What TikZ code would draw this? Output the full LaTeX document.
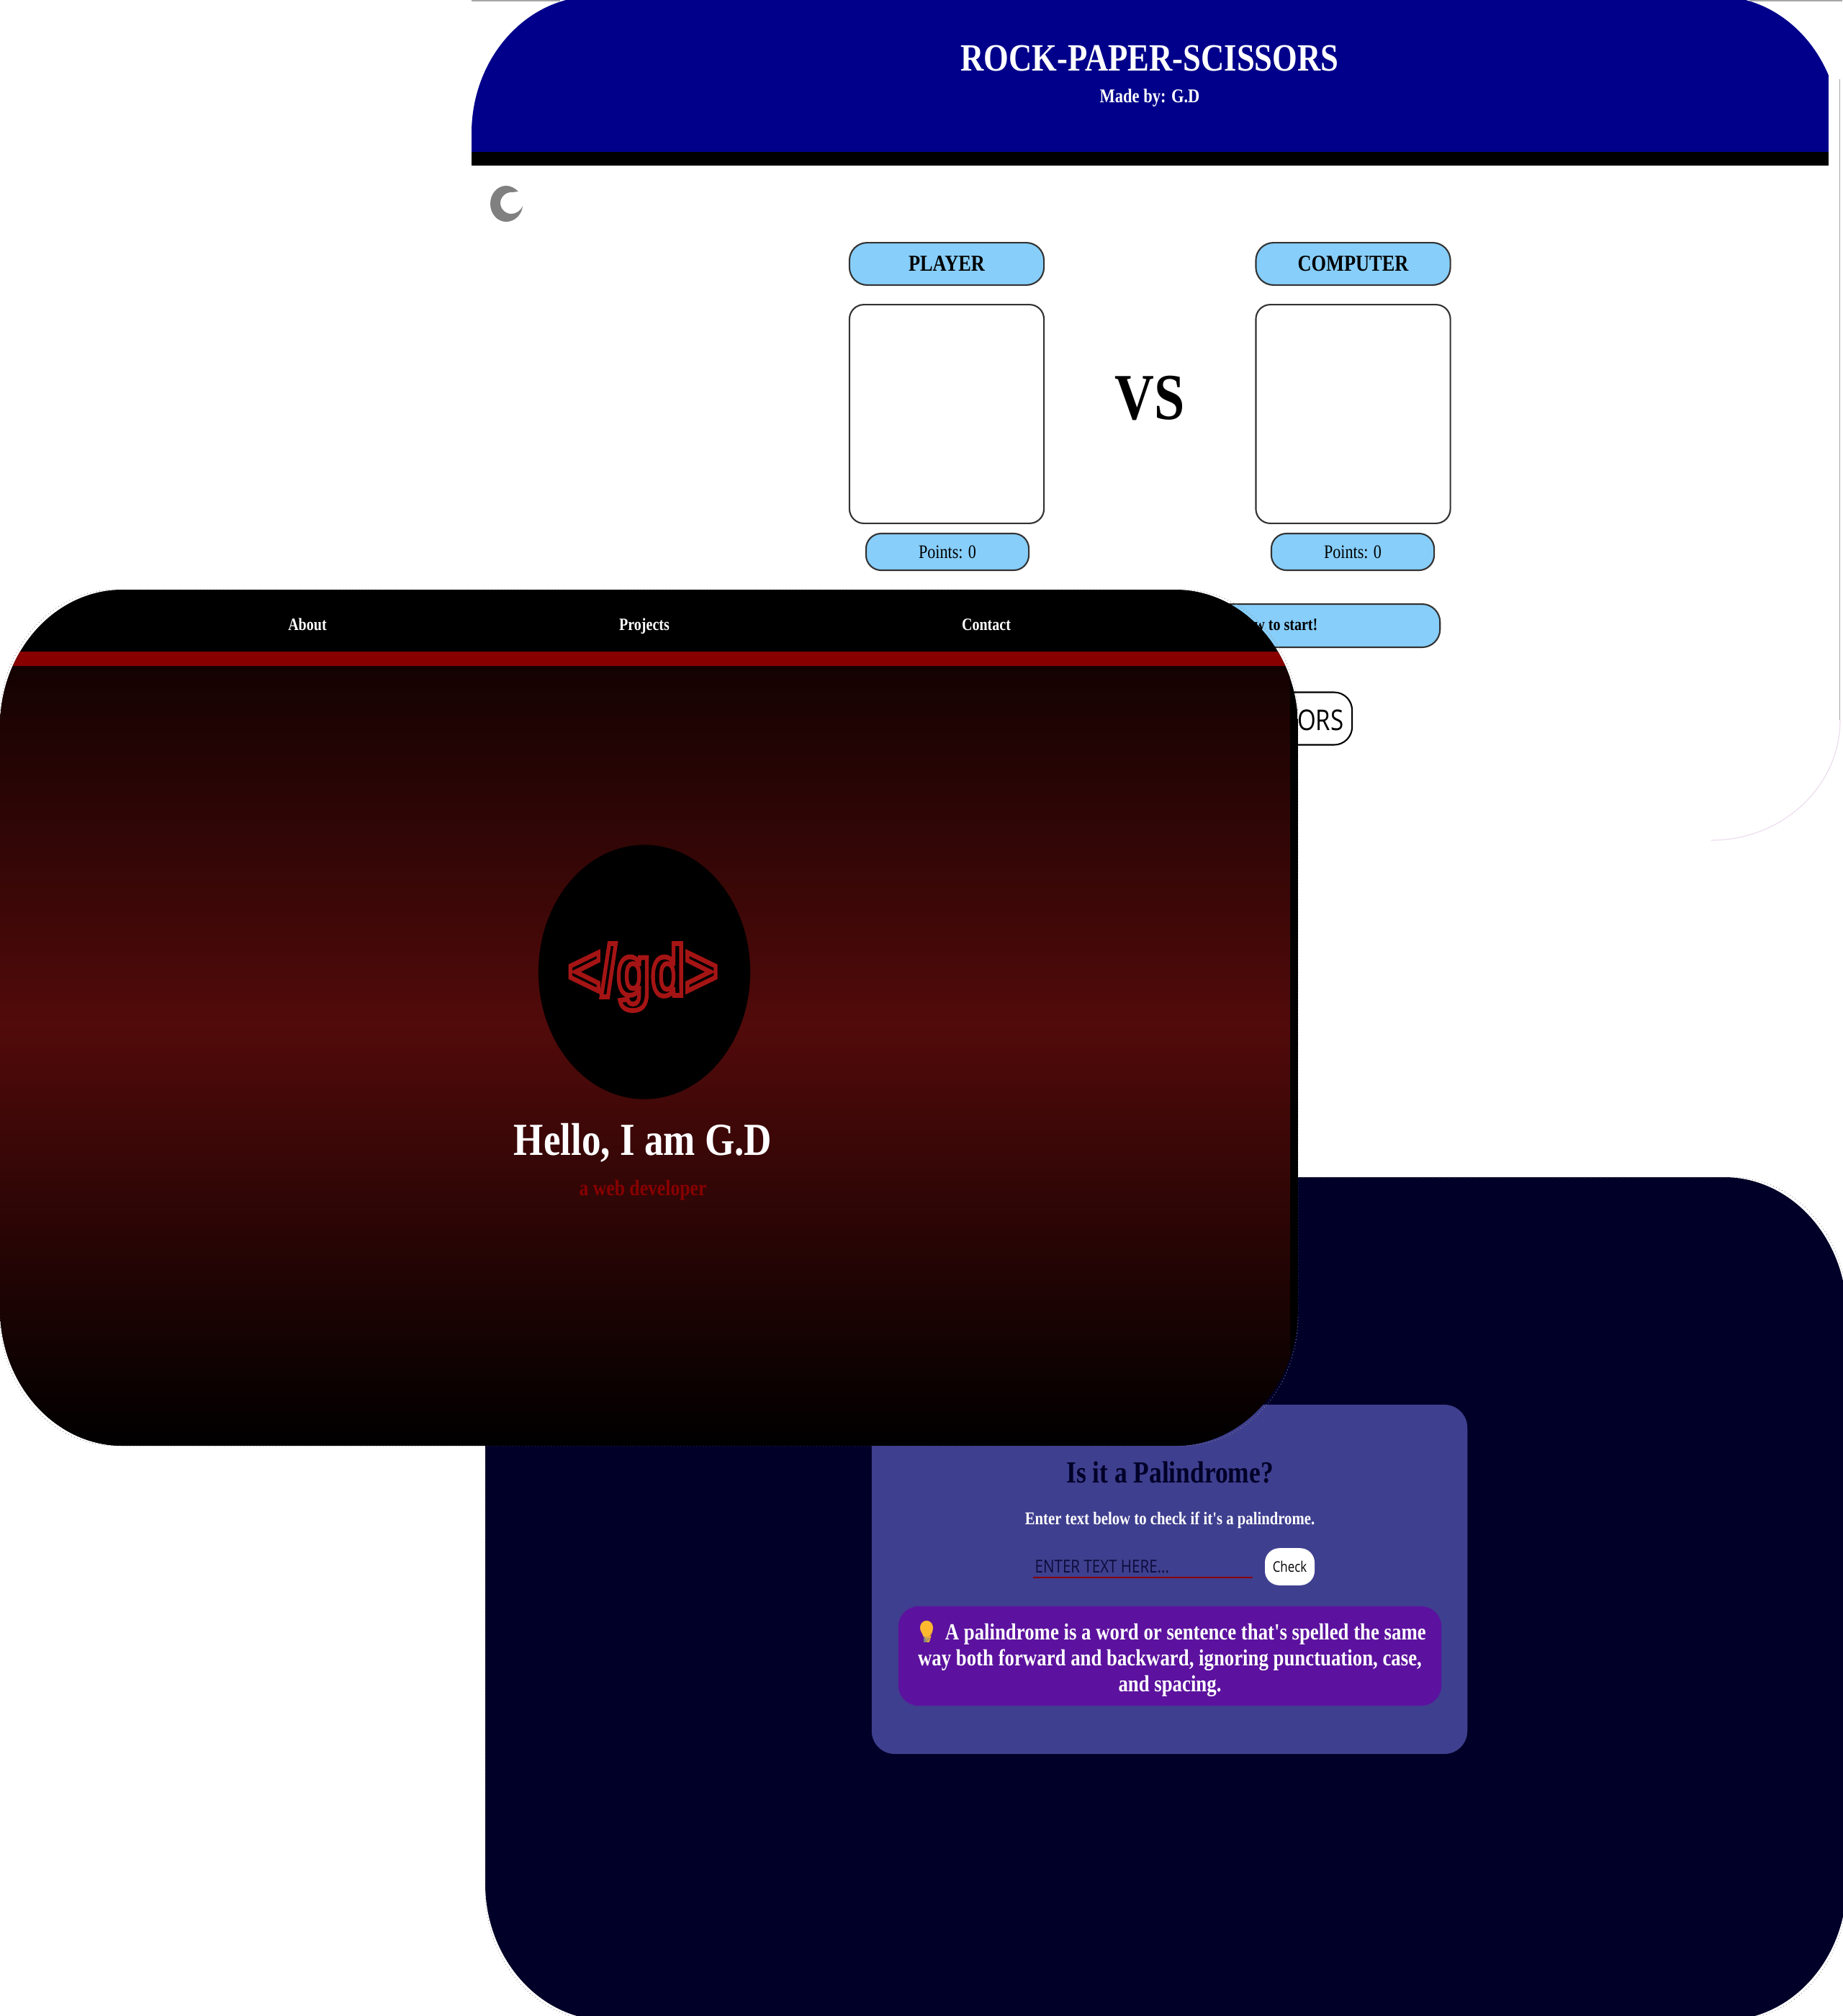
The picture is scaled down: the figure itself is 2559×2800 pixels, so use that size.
\documentclass[tikz,border=0pt]{standalone}
\usepackage{fontspec}
\usetikzlibrary{shapes.geometric}
\setmainfont{Liberation Serif}[Ligatures=TeXOff]
\setsansfont{Open Sans}
\newfontfamily\logofont{Liberation Sans}
\newfontfamily\emojifont{Noto Emoji}
\newcommand{\sz}[1]{\fontsize{#1}{#1}\selectfont}

\definecolor{headblue}{HTML}{00008B}
\definecolor{skypill}{HTML}{87CEFA}
\definecolor{pillline}{HTML}{333333}
\definecolor{barred}{HTML}{880000}
\definecolor{heroglow}{HTML}{520A0A}
\definecolor{herotop}{HTML}{140202}
\definecolor{logored}{HTML}{A51414}
\definecolor{nightblue}{HTML}{000028}
\definecolor{slateblue}{HTML}{3F3F8F}
\definecolor{tippurple}{HTML}{5C129E}
\definecolor{bulbgold}{HTML}{FDB92F}

\tikzset{
  % x0 y0 x1 y1 rx ry, with the corners drawn as quarter ellipses
  card path/.style n args={6}{insert path={
    ({#1+#5},#2) -- ({#3-#5},#2)
    .. controls ({#3-0.45*#5},#2) and (#3,{#2+0.45*#6}) .. (#3,{#2+#6})
    -- (#3,{#4-#6})
    .. controls (#3,{#4-0.45*#6}) and ({#3-0.45*#5},#4) .. ({#3-#5},#4)
    -- ({#1+#5},#4)
    .. controls ({#1+0.45*#5},#4) and (#1,{#4-0.45*#6}) .. (#1,{#4-#6})
    -- (#1,{#2+#6})
    .. controls (#1,{#2+0.45*#6}) and ({#1+0.45*#5},#2) .. ({#1+#5},#2) -- cycle}},
  txt/.style={yscale=1.2,inner sep=0,font=\bfseries\sz{5.7}},
  pill/.style={rectangle,yscale=1.2,inner sep=0,draw=pillline,fill=skypill,line width=0.6pt,
    rounded corners=0.2cm},
  hairline/.style={line width=0.3pt,black!35},
  cornerdots/.style={line width=0.25pt,densely dotted,black!45},
}

\begin{document}
\begin{tikzpicture}[x=0.01cm,y=-0.01cm]
  \useasboundingbox (0,0) rectangle (2559,2800);
  \fill[white] (0,0) rectangle (2559,2800);

  % rock paper scissors page
  \begin{scope}
    \clip[card path={655}{-5}{2556}{1167}{170}{190}];
    \fill[headblue] (655,-5) rectangle (2540,211);
    \fill[black] (655,211) rectangle (2540,230);
  \end{scope}
  \draw[hairline] (655,1) -- (778,1);
  \draw[hairline] (2430,1) -- (2559,1);
  \draw[hairline] (2555,110) -- (2555,1000);
  \draw[line width=0.3pt,violet!15] (2377,1167) .. controls (2476,1167) and (2556,1092) .. (2556,1000);
  \node[txt,white,font=\bfseries\sz{12.7}] (title) at (1597,81) {ROCK-PAPER-SCISSORS};
  \node[txt,white,font=\bfseries\sz{6.4}] (madeby) at (1597,136) {Made by: G.D};
  \fill[gray] (720,266) .. controls (715,261) and (709,258) .. (703,258)
    .. controls (691,258) and (681,269) .. (681,283)
    .. controls (681,297) and (691,308) .. (703,308)
    .. controls (715,308) and (725,298) .. (726,286)
    .. controls (723,293) and (717,297) .. (710,297)
    .. controls (702,297) and (695,290) .. (695,282)
    .. controls (695,274) and (702,267) .. (710,267)
    .. controls (714,267) and (717,266) .. (720,266) -- cycle;

  \node[pill,minimum width=2.7cm,minimum height=0.49cm,rounded corners=0.245cm,font=\bfseries\sz{7.5}] (player) at (1315,366.5) {\raisebox{-0.5pt}{PLAYER}};
  \node[pill,minimum width=2.7cm,minimum height=0.49cm,rounded corners=0.245cm,font=\bfseries\sz{7.5}] (computer) at (1879.5,366.5) {\raisebox{-0.5pt}{COMPUTER}};
  \node[pill,fill=white,minimum width=2.7cm,minimum height=2.53cm] (playerbox) at (1315,575) {};
  \node[pill,fill=white,minimum width=2.7cm,minimum height=2.53cm] (computerbox) at (1879.5,575) {};
  \node[txt,font=\bfseries\sz{21.6}] (versus) at (1597,553) {VS};
  \node[pill,minimum width=2.26cm,minimum height=0.425cm,rounded corners=0.21cm,font=\sz{6.3}] (playerpoints) at (1316,766.5) {\raisebox{-0.5pt}{Points: 0}};
  \node[pill,minimum width=2.26cm,minimum height=0.425cm,rounded corners=0.21cm,font=\sz{6.3}] (computerpoints) at (1879,766.5) {\raisebox{-0.5pt}{Points: 0}};
  \node[pill,minimum width=8.08cm,minimum height=0.5cm,rounded corners=0.25cm] (startpill) at (1596,869) {};
  \node[txt,anchor=east,font=\bfseries\sz{5.7}] (starttext) at (1831,868) {w to start!};
  \node[pill,fill=white,draw=black,minimum width=4.76cm,minimum height=0.608cm,rounded corners=0.25cm] (movebtn) at (1640,998) {};
  \node[txt,anchor=east,font=\sffamily\sz{9.4}] (movetext) at (1867,1000) {ORS};

  % palindrome page
  \fill[nightblue,card path={674}{1635}{2565}{2806}{170}{190}];
  \draw[cornerdots,card path={674}{1635}{2565}{2806}{160}{180}];
  \node[rectangle,fill=slateblue,yscale=1.2,inner sep=0,rounded corners=0.32cm,
    minimum width=8.27cm,minimum height=4.04cm] (checkcard) at (1624.5,2193.5) {};
  \node[txt,nightblue,font=\bfseries\sz{10.07}] (checktitle) at (1625,2045) {Is it a Palindrome?};
  \node[txt,white,font=\bfseries\sz{5.9}] (checkhint) at (1625,2111) {Enter text below to check if it's a palindrome.};
  \node[txt,anchor=west,nightblue!80!slateblue,font=\sffamily\sz{5.85}] (checkholder) at (1437,2176) {ENTER TEXT HERE...};
  \draw[barred,line width=0.7pt] (1435,2191) -- (1740,2191);
  \node[rectangle,fill=white,yscale=1.2,inner sep=0,rounded corners=0.2cm,
    minimum width=0.69cm,minimum height=0.43cm,font=\sffamily\sz{4.8}] (checkbtn) at (1791.5,2176) {Check};
  \node[rectangle,fill=tippurple,yscale=1.2,inner sep=0,rounded corners=0.28cm,
    minimum width=7.54cm,minimum height=1.15cm] (tipbox) at (1625,2300) {};
  \fill[bulbgold] (1287,2251) .. controls (1294,2251) and (1296,2257) .. (1296,2261)
    .. controls (1296,2266) and (1292,2269) .. (1291,2274) -- (1283,2274)
    .. controls (1282,2269) and (1278,2266) .. (1278,2261)
    .. controls (1278,2257) and (1280,2251) .. (1287,2251) -- cycle;
  \fill[gray] (1283,2273) rectangle (1291,2281);
  \node[txt,white,align=center,font=\bfseries\sz{7.62}] (tiptext) at (1625,2306)
    {\makebox[12.4pt][l]{\hspace{2.2pt}{\emojifont\color{bulbgold}\sz{5.5}\symbol{"1F4A1}}}A palindrome is a word or sentence that's spelled the same\\[0.93pt]
     way both forward and backward, ignoring punctuation, case,\\[0.93pt] and spacing.};

  % portfolio page on top
  \draw[cornerdots,card path={0}{819}{1803}{2008}{160}{180}];
  \begin{scope}
    \clip[card path={0}{819}{1803}{2008}{170}{190}];
    \fill[black] (0,819) rectangle (1803,2008);
    \fill[barred] (0,905) rectangle (1792,925);
    \shade[top color=herotop,bottom color=heroglow] (0,925) rectangle (1792,1423);
    \shade[top color=heroglow,bottom color=black] (0,1422) rectangle (1792,2008);
  \end{scope}
  \node[txt,white] (about) at (427,867) {About};
  \node[txt,white] (projects) at (895,870) {Projects};
  \node[txt,white] (contact) at (1370,868) {Contact};
  \node[ellipse,fill=black,minimum width=2.94cm,minimum height=3.53cm,inner sep=0] (logoback) at (895,1350) {};
  \node[txt,font=\logofont\bfseries\sz{22.2},yscale=1.06,logored] (logo) at (893,1357)
    {\special{pdf:code 1 Tr 1.5 w 0.647 0.078 0.078 RG}</gd>\special{pdf:code 0 Tr}};
  \node[txt,white,font=\bfseries\sz{15.1}] (hello) at (893,1587) {Hello, I am G.D};
  \node[txt,barred,font=\bfseries\sz{7.3}] (role) at (893,1653) {a web developer};
\end{tikzpicture}
\end{document}
